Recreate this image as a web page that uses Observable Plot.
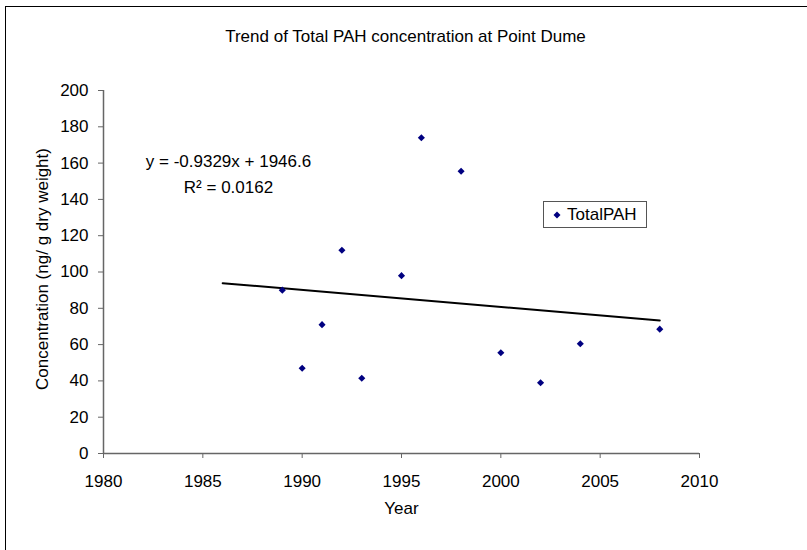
<!DOCTYPE html>
<html>
<head>
<meta charset="utf-8">
<script src="https://cdn.jsdelivr.net/npm/d3@7"></script>
<script src="https://cdn.jsdelivr.net/npm/@observablehq/plot@0.6"></script>
<style>
  html, body { margin: 0; padding: 0; background: #fff; overflow: hidden; }
  #wrap { position: relative; width: 807px; height: 550px; font-family: "Liberation Sans", Arial, sans-serif; }
  #frame { position: absolute; left: 5px; top: 6px; width: 820px; height: 570px; border: 1px solid #000; box-sizing: border-box; pointer-events: none; }
  #legend { position: absolute; left: 543px; top: 201px; width: 104px; height: 27px; box-sizing: border-box;
            border: 1px solid #555; background: #fff; font-size: 17px; color: #000; }
  #legend svg { position: absolute; left: 8px; top: 8px; }
  #legend span { position: absolute; left: 23px; top: 3px; line-height: 20px; }
  #chart svg { display: block; }
</style>
</head>
<body>
<div id="wrap">
  <div id="chart"></div>
  <div id="frame"></div>
  <div id="legend"><svg width="10" height="10"><path d="M5,1.5L8.5,5L5,8.5L1.5,5Z" fill="#000080"/></svg><span>TotalPAH</span></div>
</div>
<script>
const years = [1989, 1990, 1991, 1992, 1993, 1995, 1996, 1998, 2000, 2002, 2004, 2008];
const totalPAH = [90, 47, 71, 112, 41.5, 98, 174, 155.5, 55.5, 39, 60.5, 68.5];
const xTicks = [1980, 1985, 1990, 1995, 2000, 2005, 2010];
const yTicks = [0, 20, 40, 60, 80, 100, 120, 140, 160, 180, 200];
const trendSlope = -0.9329;
const trendIntercept = 1946.6;
const trendYears = [1986, 2008];
const titleText = "Trend of Total PAH concentration at Point Dume";
const equationText = "y = -0.9329x + 1946.6";
const r2Text = "R² = 0.0162";
const xLabel = "Year";
const yLabel = "Concentration (ng/ g dry weight)";

const points = years.map((y, i) => ({year: y, value: totalPAH[i]}));
const trend = trendYears.map(x => ({year: x, value: trendSlope * x + trendIntercept}));

const chart = Plot.plot({
  width: 807,
  height: 550,
  marginLeft: 103,
  marginRight: 108,
  marginTop: 90,
  marginBottom: 97,
  style: {fontFamily: "'Liberation Sans', Arial, sans-serif", fontSize: "17px", background: "white", color: "#000"},
  x: {domain: [1980, 2010]},
  y: {domain: [0, 200]},
  marks: [
    Plot.axisX({ticks: xTicks, tickFormat: d3.format("d"), tickSize: 5, tickPadding: 16, label: null, stroke: "#666", fill: "#000"}),
    Plot.axisY({ticks: yTicks, tickSize: 5, tickPadding: 10, label: null, stroke: "#666", fill: "#000"}),
    Plot.ruleX([1980], {stroke: "#666", strokeWidth: 1.5}),
    Plot.ruleY([0], {stroke: "#666", strokeWidth: 1.5}),
    Plot.line(trend, {x: "year", y: "value", stroke: "#000", strokeWidth: 2}),
    Plot.dot(points, {x: "year", y: "value", symbol: "diamond2", r: 3.2, fill: "#000080", stroke: "none"}),
    Plot.text([titleText], {text: d => d, frameAnchor: "top", dx: 4, dy: -54, lineAnchor: "middle", fontSize: 17}),
    Plot.text([equationText], {text: d => d, frameAnchor: "top-left", dx: 125, dy: 71, textAnchor: "middle", lineAnchor: "middle", fontSize: 17}),
    Plot.text([r2Text], {text: d => d, frameAnchor: "top-left", dx: 125, dy: 97, textAnchor: "middle", lineAnchor: "middle", fontSize: 17}),
    Plot.text([xLabel], {text: d => d, frameAnchor: "bottom", dx: 0, dy: 55, lineAnchor: "middle", fontSize: 17}),
    Plot.text([yLabel], {text: d => d, frameAnchor: "left", dx: -61, dy: -3, rotate: -90, textAnchor: "middle", lineAnchor: "middle", fontSize: 17})
  ]
});
document.getElementById("chart").appendChild(chart);
</script>
</body>
</html>
